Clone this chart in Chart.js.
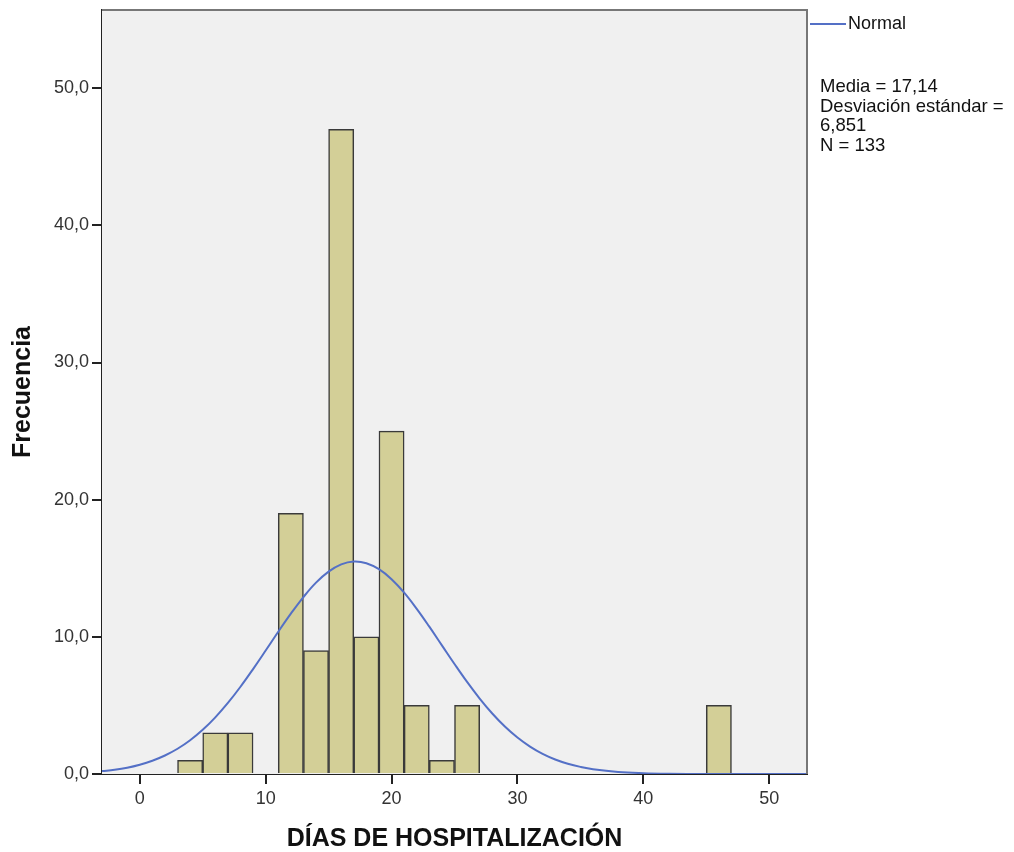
<!DOCTYPE html>
<html>
<head>
<meta charset="utf-8">
<script src="https://cdn.jsdelivr.net/npm/chart.js@4.4.1/dist/chart.umd.min.js"></script>
<style>
  html, body { margin: 0; padding: 0; background: #fff; }
  #wrap { position: relative; width: 1014px; height: 852px; font-family: "Liberation Sans", Arial, sans-serif; }
  #legend { position: absolute; left: 810px; top: 13px; font-size: 18px; color: #111; display: flex; align-items: center; }
  #legend .swatch { width: 36px; height: 0; border-top: 2px solid #5470c6; margin-right: 2px; }
  #stats { position: absolute; left: 820px; top: 76px; font-size: 18.5px; line-height: 19.5px; color: #111; white-space: nowrap; }
</style>
</head>
<body>
<div id="wrap">
  <canvas id="hist" width="1014" height="852"></canvas>
  <div id="legend"><span class="swatch"></span><span>Normal</span></div>
  <div id="stats">Media = 17,14<br>Desviación estándar =<br>6,851<br>N = 133</div>
</div>
<script>
// ── Datos del histograma ──────────────────────────────────────────────
const binCenters = [4, 6, 8, 12, 14, 16, 18, 20, 22, 24, 26, 46];
const binCounts  = [1, 3, 3, 19, 9, 47, 10, 25, 5, 1, 5, 5];

// Curva normal superpuesta (valores estimados del gráfico)
const curveX = [-3, -2, -1, 0, 1, 2, 3, 4, 5, 6, 7, 8, 9, 10, 11, 12, 13, 14, 15, 16, 17,
                18, 19, 20, 21, 22, 23, 24, 25, 26, 27, 28, 29, 30, 31, 32, 33, 34, 35,
                36, 38, 40, 42, 45, 50, 53];
const curveY = [0.21, 0.31, 0.46, 0.68, 0.97, 1.35, 1.84, 2.46, 3.22, 4.13, 5.18, 6.36, 7.65,
                9.00, 10.37, 11.69, 12.90, 13.95, 14.75, 15.28, 15.49, 15.37, 14.93, 14.20,
                13.22, 12.04, 10.74, 9.38, 8.02, 6.71, 5.50, 4.41, 3.46, 2.66, 2.00, 1.47,
                1.06, 0.75, 0.52, 0.35, 0.15, 0.06, 0.02, 0.0, 0.0, 0.0];

const xTicks = [0, 10, 20, 30, 40, 50];
const yTicks = [0, 10, 20, 30, 40, 50];

// ── Fondo gris y marco del área de trazado ───────────────────────────
const plotFrame = {
  id: 'plotFrame',
  beforeDatasetsDraw(chart) {
    const { ctx, chartArea: a } = chart;
    ctx.save();
    ctx.fillStyle = '#f0f0f0';
    ctx.fillRect(a.left, a.top, a.right - a.left, a.bottom - a.top);
    ctx.restore();
  },
  afterDatasetsDraw(chart) {
    const { ctx, chartArea: a } = chart;
    ctx.save();
    ctx.strokeStyle = '#777';
    ctx.lineWidth = 2;
    ctx.beginPath();
    ctx.moveTo(a.left, a.top);
    ctx.lineTo(a.right, a.top);
    ctx.lineTo(a.right, a.bottom);
    ctx.stroke();
    ctx.restore();
  },
};

const tickFont = { family: "'Liberation Sans', Arial, sans-serif", size: 18 };
const titleFont = { family: "'Liberation Sans', Arial, sans-serif", size: 25, weight: 'bold' };

new Chart(document.getElementById('hist'), {
  type: 'bar',
  data: {
    datasets: [
      {
        type: 'line',
        label: 'Normal',
        data: curveX.map((x, i) => ({ x, y: curveY[i] })),
        borderColor: '#5470c6',
        borderWidth: 2,
        pointRadius: 0,
        tension: 0.4,
        fill: false,
        order: 0,
      },
      {
        type: 'bar',
        label: 'Frecuencia',
        data: binCenters.map((x, i) => ({ x, y: binCounts[i] })),
        backgroundColor: '#d3cf97',
        borderColor: '#3a3a3a',
        borderWidth: 1.5,
        barPercentage: 1.0,
        categoryPercentage: 1.0,
        order: 1,
      },
    ],
  },
  options: {
    responsive: false,
    animation: false,
    layout: { padding: { left: 0, top: 10, right: 207, bottom: 0 } },
    plugins: {
      legend: { display: false },
      tooltip: { enabled: false },
    },
    scales: {
      x: {
        type: 'linear',
        min: -3,
        max: 53,
        offset: false,
        afterFit: s => { s.height = 78; },
        afterBuildTicks: s => { s.ticks = xTicks.map(v => ({ value: v })); },
        grid: { drawOnChartArea: false, offset: false, color: '#222', lineWidth: 2, tickLength: 10 },
        border: { display: true, color: '#222', width: 2 },
        ticks: { color: '#333', font: tickFont, padding: 4, maxRotation: 0, callback: v => String(v) },
        title: { display: true, text: 'DÍAS DE HOSPITALIZACIÓN', color: '#111', font: titleFont, padding: { top: 0, bottom: -2 } },
      },
      y: {
        type: 'linear',
        min: 0,
        max: 55.7,
        afterFit: s => { s.width = 102; s.paddingTop = 0; s.paddingBottom = 0; },
        afterBuildTicks: s => { s.ticks = yTicks.map(v => ({ value: v })); },
        grid: { drawOnChartArea: false, color: '#222', lineWidth: 2, tickLength: 10 },
        border: { display: true, color: '#222', width: 2 },
        ticks: { color: '#333', font: tickFont, padding: 3, callback: v => v.toFixed(1).replace('.', ',') },
        title: { display: true, text: 'Frecuencia', color: '#111', font: titleFont, padding: { top: 8, bottom: 0 } },
      },
    },
  },
  plugins: [plotFrame],
});
</script>
</body>
</html>
